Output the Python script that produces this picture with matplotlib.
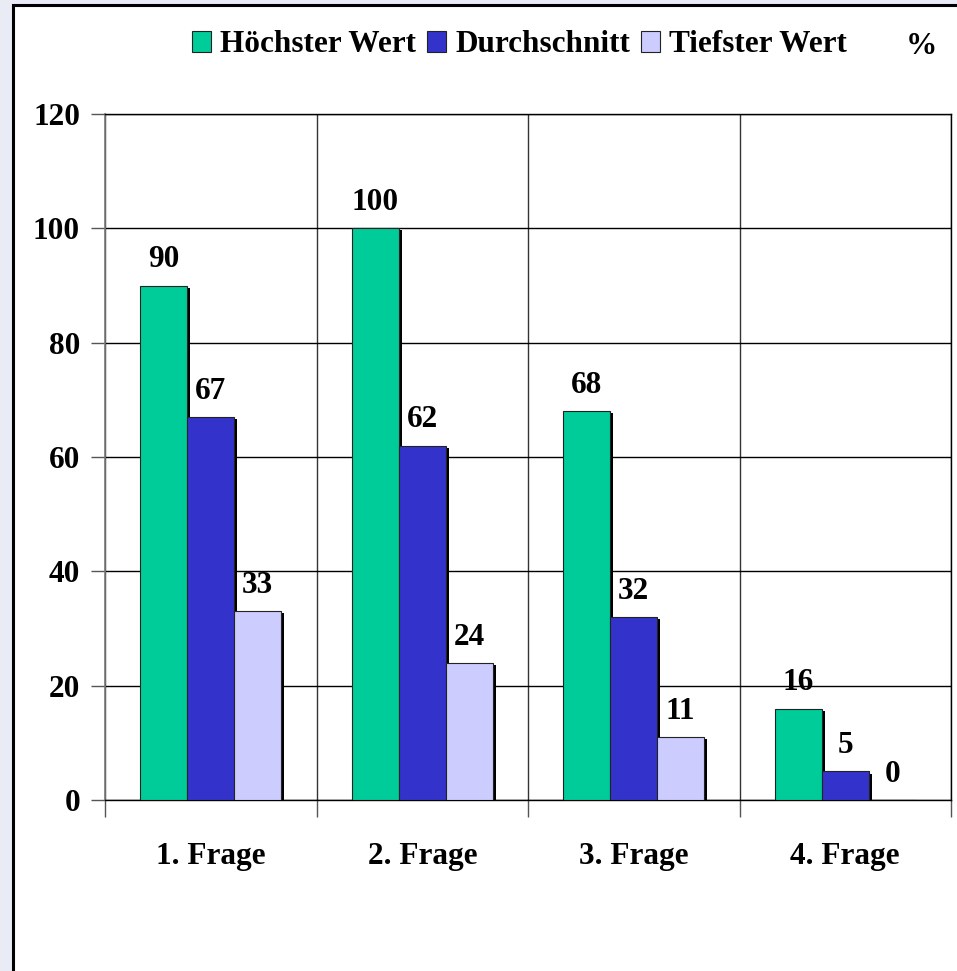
import matplotlib
matplotlib.use("Agg")
import matplotlib.pyplot as plt
import matplotlib.patheffects as pe
from matplotlib.patches import Rectangle
import numpy as np

categories = ["1. Frage", "2. Frage", "3. Frage", "4. Frage"]
series_names = ["Höchster Wert", "Durchschnitt", "Tiefster Wert"]
hoechster = [90, 100, 68, 16]
durchschnitt = [67, 62, 32, 5]
tiefster = [33, 24, 11, 0]
series_values = [hoechster, durchschnitt, tiefster]
colors = ["#00CC99", "#3333CC", "#CCCCFF"]
yticks = [0, 20, 40, 60, 80, 100, 120]

plt.rcParams["font.family"] = ["Liberation Serif", "DejaVu Serif"]
plt.rcParams["font.weight"] = "bold"
FS = 22.5

W, H = 957, 971
fig = plt.figure(figsize=(W / 100, H / 100), dpi=100)
fig.patch.set_facecolor("#e9ecf4")

# white slide box
box = Rectangle((13 / W, -0.05), 1.0, (H - 5) / H + 0.05, transform=fig.transFigure,
                facecolor="white", edgecolor="black", linewidth=2.2, zorder=-10)
fig.patches.append(box)

ax = fig.add_axes([105 / W, 1 - 800 / H, (951 - 105) / W, (800 - 114) / H])
ax.set_zorder(1)
ax.set_facecolor("white")

x = np.arange(len(categories))
bw = 0.222
shadow = [pe.SimplePatchShadow(offset=(2.2, -1.5), shadow_rgbFace="black", alpha=1.0), pe.Normal()]
handles = []
for i, (name, vals, col) in enumerate(zip(series_names, series_values, colors)):
    bars = ax.bar(x + (i - 1) * bw, vals, width=bw, color=col, edgecolor="#222222",
                  linewidth=0.8, label=name, zorder=3)
    for b in bars:
        if b.get_height() > 0:
            b.set_path_effects(shadow)
    ax.bar_label(bars, labels=[str(v) for v in vals], padding=8, fontsize=FS,
                 fontweight="bold", zorder=5)
    handles.append(bars)

ax.set_xlim(-0.5, len(categories) - 0.5)
ax.set_ylim(0, 120)
ax.set_yticks(yticks)
ax.set_yticklabels([str(t) for t in yticks], fontsize=FS, fontweight="bold")
ax.set_xticks(x)
ax.set_xticklabels(categories, fontsize=FS, fontweight="bold")
ax.tick_params(axis="x", which="major", length=0, pad=30)
ax.set_xticks(np.arange(len(categories) + 1) - 0.5, minor=True)
ax.tick_params(axis="x", which="minor", length=12, width=1, color="#555555", direction="out")
ax.tick_params(axis="y", which="major", length=10, width=1, color="#555555", direction="out", pad=8)

ax.grid(True, axis="y", color="black", linewidth=1, zorder=1)
ax.grid(True, axis="x", which="minor", color="#333333", linewidth=1, zorder=1)
ax.grid(False, axis="x", which="major")
ax.set_axisbelow(True)
for s in ["top", "right", "bottom"]:
    ax.spines[s].set_color("black")
    ax.spines[s].set_linewidth(1)
ax.spines["left"].set_color("#777777")
ax.spines["left"].set_linewidth(1.2)

leg = fig.legend(handles=handles, labels=series_names, loc="center left",
                 bbox_to_anchor=(192 / W, 1 - 45 / H), ncol=3, frameon=False,
                 prop={"size": FS, "weight": "bold"}, handlelength=0.6, handleheight=0.7,
                 handletextpad=0.3, columnspacing=0.35, borderaxespad=0, borderpad=0)
for h in leg.legend_handles:
    h.set_path_effects([])
fig.text(921 / W, 1 - 46 / H, "%", fontsize=FS, fontweight="bold", ha="center", va="center")

fig.savefig("out.png", dpi=100, facecolor=fig.get_facecolor())
